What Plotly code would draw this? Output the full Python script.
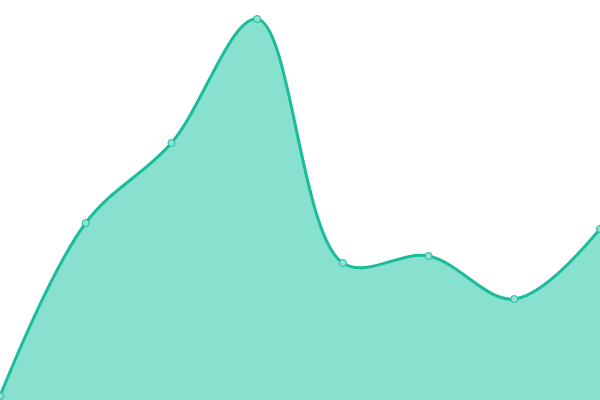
import plotly.graph_objects as go

# x positions are evenly spaced categories
x_index = [0, 1, 2, 3, 4, 5, 6, 7]
values = [4, 177, 257, 381, 137, 144, 101, 171]

line_color = "#1abc9c"
fill_color = "#88e0cf"

fig = go.Figure()

fig.add_trace(go.Scatter(
    x=x_index,
    y=values,
    mode="lines+markers",
    line=dict(color=line_color, width=3, shape="spline", smoothing=1),
    fill="tozeroy",
    fillcolor=fill_color,
    marker=dict(size=7, color="#8fe3d2", line=dict(color=line_color, width=1)),
    hoverinfo="skip",
    showlegend=False,
    cliponaxis=False,
))

fig.update_layout(
    width=600,
    height=400,
    margin=dict(l=0, r=0, t=0, b=0),
    plot_bgcolor="white",
    paper_bgcolor="white",
    xaxis=dict(range=[0, 7], visible=False, fixedrange=True),
    yaxis=dict(range=[0, 400], visible=False, fixedrange=True),
)

# drop the default page margin so the chart sits flush in the window
fig.write_html(
    "out.html",
    config={"displayModeBar": False},
    post_script="document.body.style.margin='0';document.body.style.overflow='hidden';",
)
